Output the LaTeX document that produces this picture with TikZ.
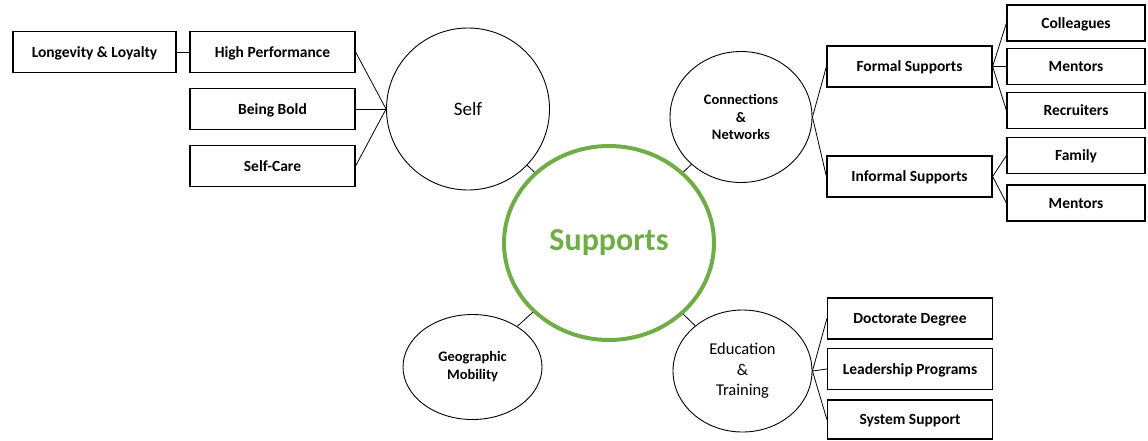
\documentclass[tikz,border=0pt]{standalone}
\usepackage{fontspec}
\setmainfont{Carlito}
\usepackage{tikz}
\usetikzlibrary{shapes.geometric}
\definecolor{supgreen}{RGB}{112, 173, 71}

\tikzset{
  leaf/.style={draw, rectangle, line width=1.2pt, inner sep=0pt,
    minimum width=165, minimum height=41, text height=10.5pt, text depth=-1pt,
    font=\fontsize{15.5}{18}\selectfont\bfseries},
  twig/.style={leaf, minimum width=138, minimum height=36},
  topic/.style={draw, ellipse, line width=0.9pt, inner sep=0pt, align=center},
  link/.style={line width=0.8pt},
}

\begin{document}
\begin{tikzpicture}[x=1pt,y=-1pt]
\useasboundingbox (0,0) rectangle (1148,440);

% Centre
\node[draw=supgreen, ellipse, line width=4pt, minimum width=210, minimum height=194,
  text=supgreen, font=\fontsize{32}{36}\selectfont\bfseries] (sup) at (609,243) {Supports};

% Self
\node[topic, minimum width=163, minimum height=162, font=\fontsize{19}{22}\selectfont] (self) at (468,109) {Self};
\node[leaf] (perf) at (272.5,52) {High Performance};
\node[leaf] (bold) at (272.5,109) {Being Bold};
\node[leaf] (care) at (272.5,166) {Self-Care};
\node[leaf, minimum width=163] (loyal) at (94.5,52) {Longevity \& Loyalty};

\draw[link] (loyal) -- (perf);
\foreach \b in {perf,bold,care} {
    \draw[link] (\b.east) -- (self.west);
}

% Connections & Networks
\node[topic, minimum width=142, minimum height=131,
  font=\fontsize{14.5}{17.5}\selectfont\bfseries] (conn) at (741,117) {Connections\\\&\\Networks};
\node[leaf] (formal) at (909.5,66.5) {Formal Supports};
\node[leaf] (informal) at (909.5,176.5) {Informal Supports};
\node[twig] (coll) at (1076,23) {Colleagues};
\node[twig] (ment) at (1076,66.5) {Mentors};
\node[twig] (recr) at (1076,110.5) {Recruiters};
\node[twig] (fam) at (1076,155.5) {Family};
\node[twig] (ment2) at (1076,203) {Mentors};

\draw[link] (conn.east) -- (formal.west);
\draw[link] (conn.east) -- (informal.west);
\foreach \b in {coll,ment,recr} {
    \draw[link] (formal.east) -- (\b.west);
}
\foreach \b in {fam,ment2} {
    \draw[link] (informal.east) -- (\b.west);
}

% Geographic Mobility
\node[topic, minimum width=139, minimum height=105,
  font=\fontsize{14.5}{18}\selectfont\bfseries] (geo) at (472.5,367) {Geographic\\Mobility};

% Education & Training
\node[topic, minimum width=139, minimum height=122,
  font=\fontsize{16.5}{20.5}\selectfont] (edu) at (742.5,371) {Education\\\&\\Training};
\node[leaf] (doct) at (910,318.5) {Doctorate Degree};
\node[leaf] (lead) at (910,369) {Leadership Programs};
\node[leaf, minimum height=39] (sys) at (910,419.5) {System Support};

\foreach \b in {doct,lead,sys} {
    \draw[link] (edu.east) -- (\b.west);
}

% Links to the centre
\foreach \t in {self,conn,geo,edu} {
    \draw[link] (\t) -- (sup);
}
\end{tikzpicture}
\end{document}
